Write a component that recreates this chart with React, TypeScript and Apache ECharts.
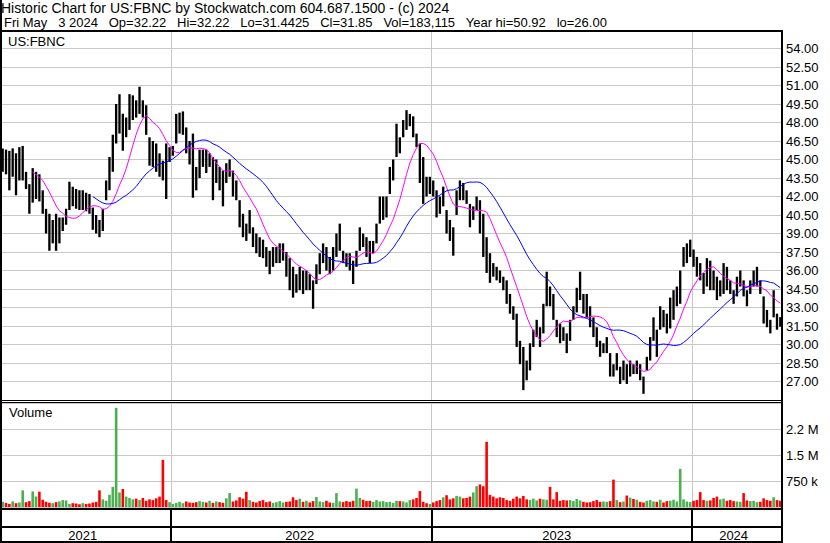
import React, { useEffect, useRef } from "react";
import * as echarts from "echarts";

// ---- Data (one point ≈ 3 trading days) ----
const highs = [
  45.9, 45.8, 45.7, 45.9, 45.5, 46.0, 46.1, 44.0, 43.0, 44.3,
  44.0, 43.8, 42.5, 41.0, 40.6, 40.1, 40.6, 40.3, 40.3, 41.0,
  43.2, 42.8, 42.6, 42.5, 42.5, 42.3, 42.2, 41.1, 40.5, 40.1,
  41.0, 43.3, 45.2, 47.0, 49.5, 50.3, 48.7, 48.4, 50.3, 50.2,
  49.8, 50.9, 49.8, 49.4, 46.8, 46.5, 46.3, 45.5, 44.9, 46.3,
  46.0, 46.1, 48.7, 48.8, 48.9, 47.6, 46.5, 47.1, 44.4, 45.8,
  45.8, 45.8, 45.5, 45.2, 45.0, 44.4, 44.1, 44.7, 45.0, 44.1,
  43.3, 41.7, 40.6, 39.8, 40.9, 39.5, 39.0, 38.7, 38.5, 37.9,
  37.6, 37.9, 37.9, 38.2, 38.2, 37.5, 37.0, 36.3, 35.7, 36.3,
  36.0, 36.0, 35.7, 35.2, 36.5, 37.4, 38.2, 37.9, 37.1, 37.9,
  39.0, 39.8, 37.6, 37.4, 37.4, 36.8, 37.6, 39.5, 39.0, 38.7,
  38.4, 38.4, 39.8, 42.0, 42.0, 42.0, 44.4, 45.0, 47.9, 46.8,
  48.2, 49.0, 48.7, 48.5, 47.1, 46.3, 45.2, 43.6, 43.6, 43.3,
  42.5, 42.0, 42.8, 40.9, 40.1, 39.5, 42.5, 43.3, 43.1, 42.5,
  41.4, 41.2, 42.0, 41.7, 40.6, 38.7, 37.4, 36.6, 36.3, 36.0,
  35.5, 35.2, 34.1, 33.1, 32.5, 30.3, 29.8, 28.7, 30.1, 31.2,
  32.0, 31.4, 33.3, 35.9, 34.7, 34.1, 32.0, 31.7, 31.4, 30.9,
  32.0, 33.1, 34.6, 35.9, 34.1, 34.1, 33.1, 32.2, 31.4, 30.3,
  30.1, 30.6, 29.3, 28.4, 29.3, 28.2, 28.7, 28.4, 28.7, 28.4,
  28.7, 28.4, 27.4, 29.0, 30.6, 32.2, 31.2, 33.1, 32.8, 32.5,
  33.8, 34.4, 34.7, 36.0, 37.9, 38.2, 38.5, 37.7, 37.1, 36.6,
  35.8, 37.0, 36.8, 36.0, 35.5, 35.2, 36.6, 36.3, 35.2, 34.4,
  35.5, 36.0, 35.2, 34.4, 35.2, 36.0, 36.3, 35.2, 33.9, 32.8,
  32.0, 34.4, 32.5, 32.22,
];

const lows = [
  44.0, 43.8, 42.5, 43.6, 42.1, 43.3, 43.3, 42.6, 40.6, 41.5,
  41.8, 41.6, 40.6, 39.0, 37.6, 38.2, 37.6, 38.2, 39.2, 39.7,
  40.9, 41.2, 41.0, 40.9, 40.9, 40.8, 40.6, 39.3, 39.0, 38.7,
  39.2, 41.7, 42.5, 44.0, 46.3, 47.1, 45.7, 46.8, 47.4, 48.2,
  48.4, 48.7, 48.4, 47.0, 44.5, 44.4, 44.0, 43.6, 43.3, 41.8,
  44.8, 45.3, 46.3, 47.1, 47.0, 45.5, 44.6, 41.9, 42.5, 43.5,
  44.4, 43.9, 44.4, 41.7, 43.1, 42.5, 41.2, 43.1, 43.6, 42.0,
  41.7, 39.5, 38.7, 38.4, 39.0, 37.9, 37.4, 37.1, 37.0, 36.3,
  35.7, 36.3, 36.6, 36.6, 36.8, 35.5, 34.4, 33.8, 34.2, 34.4,
  34.1, 34.4, 34.4, 32.9, 34.9, 35.7, 36.6, 36.0, 35.7, 36.0,
  37.1, 37.6, 36.6, 36.3, 36.0, 34.9, 36.3, 37.6, 37.9, 37.1,
  36.6, 37.4, 38.2, 39.8, 40.1, 40.3, 42.2, 43.3, 45.2, 45.5,
  46.8, 47.4, 47.7, 46.8, 46.0, 43.1, 41.4, 42.0, 42.2, 42.0,
  40.3, 40.6, 41.2, 39.0, 38.4, 37.2, 40.5, 41.7, 41.7, 41.4,
  39.5, 40.1, 40.9, 39.0, 37.1, 35.8, 35.0, 35.5, 35.2, 35.0,
  34.4, 33.3, 32.5, 32.0, 29.8, 28.4, 26.3, 27.1, 27.9, 29.8,
  30.6, 29.8, 30.9, 33.1, 33.1, 32.0, 30.6, 30.1, 30.3, 29.3,
  30.3, 32.0, 32.6, 33.6, 32.5, 32.2, 31.4, 30.6, 29.8, 29.0,
  29.3, 29.3, 27.4, 27.4, 27.9, 26.8, 27.1, 26.8, 27.4, 27.6,
  27.6, 27.1, 26.0, 27.9, 28.7, 30.3, 29.0, 31.2, 31.4, 30.9,
  31.3, 32.0, 33.1, 33.3, 36.3, 36.6, 37.1, 36.3, 35.5, 35.2,
  34.1, 34.7, 34.4, 34.4, 33.6, 33.9, 34.1, 34.4, 34.1, 33.3,
  33.9, 34.7, 33.9, 33.1, 34.1, 34.7, 34.7, 34.1, 31.7, 31.4,
  30.9, 32.2, 31.2, 31.44,
];

// volume in thousands of shares
const volumesK = [
  150, 120, 90, 160, 110, 130, 480, 140, 170, 450,
  300, 440, 210, 150, 120, 110, 140, 160, 200, 190,
  90, 110, 100, 80, 110, 90, 100, 130, 150, 480,
  220, 180, 350, 580, 2860, 420, 520, 300, 260, 220,
  240, 200, 260, 180, 220, 200, 250, 300, 1360, 200,
  140, 90, 120, 150, 110, 160, 130, 120, 140, 170,
  150, 130, 180, 120, 160, 140, 120, 250, 400, 160,
  190, 280, 240, 440, 200, 150, 130, 170, 200, 140,
  160, 120, 140, 170, 130, 150, 160, 280, 200, 240,
  150, 180, 130, 170, 290, 160, 140, 180, 130, 120,
  400, 160, 140, 170, 150, 180, 530, 260, 210, 170,
  180, 150, 200, 160, 170, 140, 150, 120, 180, 170,
  160, 130, 200, 220, 260, 460, 150, 110, 90, 130,
  170, 200, 280, 340, 220, 250, 320, 300, 250, 260,
  300, 420, 600, 650, 600, 1880, 350, 300, 250, 280,
  260, 200, 180, 240, 300, 250, 320, 220, 200, 240,
  190, 240, 220, 210, 580, 220, 430, 180, 200, 190,
  200, 170, 230, 190, 150, 130, 140, 170, 200, 150,
  160, 150, 170, 790, 200, 140, 160, 330, 270, 230,
  210, 150, 130, 180, 200, 160, 150, 210, 130, 170,
  180, 210, 160, 1100, 220, 160, 140, 180, 200, 430,
  200, 180, 190, 260, 300, 220, 240, 180, 200, 170,
  160, 150, 400, 190, 170, 180, 140, 150, 250, 200,
  180, 280, 200, 183,
];

const yearLabels = ["2021", "2022", "2023", "2024"];
const yearLabelIdx = [24, 89, 166, 219];
const yearStartIdx = [51, 129, 207];

const priceTicks = { min: 25.5, max: 55.5, step: 1.5, labelMin: 27, labelMax: 54 };
const volumeTickLabels: Record<number, string> = { 750000: "750 k", 1500000: "1.5 M", 2250000: "2.2 M" };

const maShort = 10;
const maLong = 28;

const headerLine1 = "Historic Chart for US:FBNC by Stockwatch.com 604.687.1500 - (c) 2024";
const headerFields = ["Fri May   3 2024", "Op=32.22", "Hi=32.22", "Lo=31.4425", "Cl=31.85", "Vol=183,115", "Year hi=50.92", "lo=26.00"];
const headerLine2 = headerFields.join("   ");

const FONT = '"Liberation Sans", Arial, Helvetica, sans-serif';

function sma(vals: number[], n: number): (number | string)[] {
  const out: (number | string)[] = [];
  let sum = 0;
  for (let i = 0; i < vals.length; i++) {
    sum += vals[i];
    if (i >= n) sum -= vals[i - n];
    out.push(i >= n - 1 ? +(sum / n).toFixed(3) : "-");
  }
  return out;
}

export default function App() {
  const ref = useRef<HTMLDivElement>(null);

  useEffect(() => {
    if (!ref.current) return;
    const chart = echarts.init(ref.current, null, { renderer: "svg", width: 830, height: 543 });

    const cats = highs.map((_, i) => String(i));
    const mids = highs.map((h, i) => (h + lows[i]) / 2);
    const barData = highs.map((h, i) => [i, h, lows[i]]);
    const volData = volumesK.map((v, i) => ({
      value: v * 1000,
      itemStyle: { color: i > 0 && mids[i] < mids[i - 1] ? "#FF0000" : "#4CAF50" },
    }));

    const xAxisFor = (g: number) => ({
      type: "category" as const,
      gridIndex: g,
      data: cats,
      boundaryGap: true,
      axisLine: { show: false },
      axisTick: { show: false },
      axisLabel:
        g === 2
          ? {
              show: true,
              inside: true,
              margin: 8,
              verticalAlign: "middle",
              fontSize: 13,
              fontFamily: FONT,
              color: "#000",
              interval: (i: number) => yearLabelIdx.includes(i),
              formatter: (_v: string, i: number) => {
                const k = yearLabelIdx.indexOf(i);
                return k >= 0 ? yearLabels[k] : "";
              },
            }
          : { show: false },
      splitLine: {
        show: true,
        interval: (i: number) => yearStartIdx.includes(i),
        lineStyle: { color: g === 2 ? "#000" : "#C8C8C8", width: g === 2 ? 2 : 1 },
      },
    });

    const option: any = {
      animation: false,
      backgroundColor: "#fff",
      textStyle: { fontFamily: FONT },
      grid: [
        { left: 1, top: 30, width: 781, height: 370 },
        { left: 1, top: 403, width: 781, height: 104 },
        { left: 1, top: 509, width: 781, height: 34 },
      ],
      xAxis: [xAxisFor(0), xAxisFor(1), xAxisFor(2)],
      yAxis: [
        {
          type: "value",
          gridIndex: 0,
          position: "right",
          min: priceTicks.min,
          max: priceTicks.max,
          interval: priceTicks.step,
          axisLine: { show: false },
          axisTick: { show: false },
          splitLine: { show: true, lineStyle: { color: "#C8C8C8", width: 1 } },
          axisLabel: {
            margin: 4,
            fontSize: 13,
            fontFamily: FONT,
            color: "#000",
            formatter: (v: number) =>
              v >= priceTicks.labelMin - 1e-9 && v <= priceTicks.labelMax + 1e-9 ? v.toFixed(2) : "",
          },
        },
        {
          type: "value",
          gridIndex: 1,
          position: "right",
          min: 0,
          max: 3000000,
          interval: 750000,
          axisLine: { show: false },
          axisTick: { show: false },
          splitLine: { show: true, lineStyle: { color: "#C8C8C8", width: 1 } },
          axisLabel: {
            margin: 4,
            fontSize: 13,
            fontFamily: FONT,
            color: "#000",
            formatter: (v: number) => volumeTickLabels[Math.round(v)] || "",
          },
        },
        { type: "value", gridIndex: 2, show: false, min: 0, max: 1 },
      ],
      series: [
        {
          type: "custom",
          name: "price",
          xAxisIndex: 0,
          yAxisIndex: 0,
          encode: { x: 0, y: [1, 2] },
          data: barData,
          renderItem: (_p: any, api: any) => {
            const idx = api.value(0);
            const top = api.coord([idx, api.value(1)]);
            const bot = api.coord([idx, api.value(2)]);
            const w = api.size([1, 0])[0];
            const bw = w * 0.7;
            return {
              type: "rect",
              shape: { x: top[0] - bw / 2, y: top[1], width: bw, height: Math.max(bot[1] - top[1], 1) },
              style: { fill: "#000" },
            };
          },
          z: 3,
        },
        {
          type: "line",
          name: "maShort",
          xAxisIndex: 0,
          yAxisIndex: 0,
          data: sma(mids, maShort),
          showSymbol: false,
          symbol: "none",
          lineStyle: { color: "#FF00FF", width: 1 },
          z: 4,
        },
        {
          type: "line",
          name: "maLong",
          xAxisIndex: 0,
          yAxisIndex: 0,
          data: sma(mids, maLong),
          showSymbol: false,
          symbol: "none",
          lineStyle: { color: "#0000FF", width: 1 },
          z: 4,
        },
        {
          type: "bar",
          name: "volume",
          xAxisIndex: 1,
          yAxisIndex: 1,
          data: volData,
          barCategoryGap: "22%",
          z: 3,
        },
      ],
      graphic: [
        { type: "text", left: 1, top: 0, style: { text: headerLine1, font: `14px ${FONT}`, lineHeight: 15, fill: "#000" }, z: 10 },
        { type: "text", left: 4, top: 15, style: { text: headerLine2, font: `13px ${FONT}`, lineHeight: 14, fill: "#000" }, z: 10 },
        { type: "text", left: 8, top: 35, style: { text: "US:FBNC", font: `13px ${FONT}`, fill: "#000" }, z: 10 },
        { type: "text", left: 9, top: 406, style: { text: "Volume", font: `13px ${FONT}`, fill: "#000" }, z: 10 },
        { type: "rect", shape: { x: 0, y: 0, width: 2, height: 543 }, style: { fill: "#000" }, z: 20 },
        { type: "rect", shape: { x: 781, y: 30, width: 2, height: 513 }, style: { fill: "#000" }, z: 20 },
        { type: "rect", shape: { x: 0, y: 30, width: 783, height: 2 }, style: { fill: "#000" }, z: 20 },
        { type: "rect", shape: { x: 0, y: 400, width: 783, height: 1 }, style: { fill: "#000" }, z: 20 },
        { type: "rect", shape: { x: 0, y: 402, width: 783, height: 1 }, style: { fill: "#000" }, z: 20 },
        { type: "rect", shape: { x: 0, y: 508, width: 783, height: 2 }, style: { fill: "#000" }, z: 20 },
        { type: "rect", shape: { x: 0, y: 526, width: 783, height: 2 }, style: { fill: "#000" }, z: 20 },
        { type: "rect", shape: { x: 0, y: 541, width: 783, height: 2 }, style: { fill: "#000" }, z: 20 },
      ],
    };

    chart.setOption(option);
    return () => chart.dispose();
  }, []);

  return (
    <div
      ref={ref}
      style={{ position: "fixed", left: 0, top: 0, width: 830, height: 543, background: "#fff" }}
    />
  );
}
